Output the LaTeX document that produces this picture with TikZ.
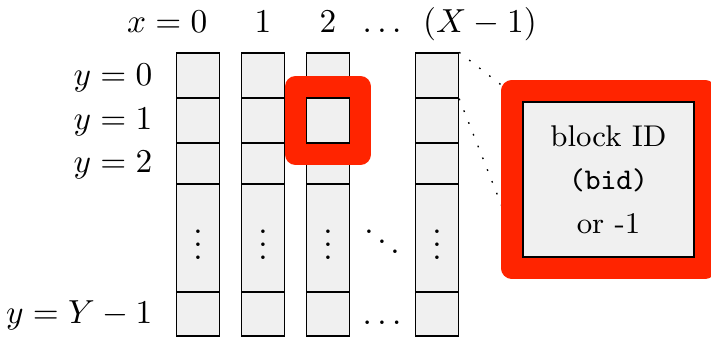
\documentclass[tikz,border=0pt]{standalone}
\usepackage{amsmath,amssymb}
\usepackage{xcolor}
\usepackage{tikz}
\usetikzlibrary{positioning,fit}

\definecolor{cellgray}{RGB}{240,240,240}
\definecolor{hired}{RGB}{255,36,0}

\begin{document}
\begin{tikzpicture}[
  x=0.3pt,y=-0.3pt,
  cell/.style={rectangle,draw,fill=cellgray,inner sep=0pt,minimum width=12.9pt},
  lbl/.style={anchor=base,inner sep=0pt},
  ylbl/.style={anchor=base east,inner sep=0pt},
  hilite/.style={rectangle,draw=hired,line width=6.3pt,line join=round,inner sep=3.15pt},
  zoomline/.style={dash pattern=on 0.5pt off 3.3pt,thin}
]
\useasboundingbox (0,0) rectangle (711,337);

% columns of cells
\foreach \c/\cx in {0/198,1/263,2/328,3/437} {
  \node[cell,minimum height=13.5pt] (c\c r0) at (\cx,75.5) {};
  \node[cell,minimum height=13.5pt] (c\c r1) at (\cx,120.5) {};
  \node[cell,minimum height=12.3pt] (c\c r2) at (\cx,163.5) {};
  \node[cell,minimum height=32.4pt] (c\c r3) at (\cx,238) {\raisebox{2pt}{$\vdots$}};
  \node[cell,minimum height=13.2pt] (c\c r4) at (\cx,314) {};
}

% axis labels
\node[lbl,anchor=base east] (x0) at (208,33) {$x=0$};
\node[lbl] (x1) at (263,33) {$1$};
\node[lbl] (x2) at (328,33) {$2$};
\node[lbl] (xdots) at (382,33) {$\ldots$};
\node[lbl] (xlast) at (480,33) {$(X-1)$};
\node[ylbl] (y0) at (153,86) {$y=0$};
\node[ylbl] (y1) at (153,130) {$y=1$};
\node[ylbl] (y2) at (153,173) {$y=2$};
\node[ylbl] (ylast) at (153,324) {$y=Y-1$};

\node (ddots) at (382,232) {$\ddots$};
\node (bdots) at (382,323) {$\ldots$};

% block id box
\node[cell,minimum width=51.3pt,minimum height=46.5pt,align=center,
  font={\fontsize{9}{13}\selectfont}] (bid) at (608.5,179.5)
  {block ID\\\texttt{(bid)}\\or -1};

\draw[zoomline] (c3r0.north east) -- (bid.north west);
\draw[zoomline] (c3r0.south east) -- (bid.south west);

\node[hilite,fit=(c2r1)] (sel) {};
\node[hilite,fit=(bid)] (selbid) {};
\end{tikzpicture}
\end{document}
